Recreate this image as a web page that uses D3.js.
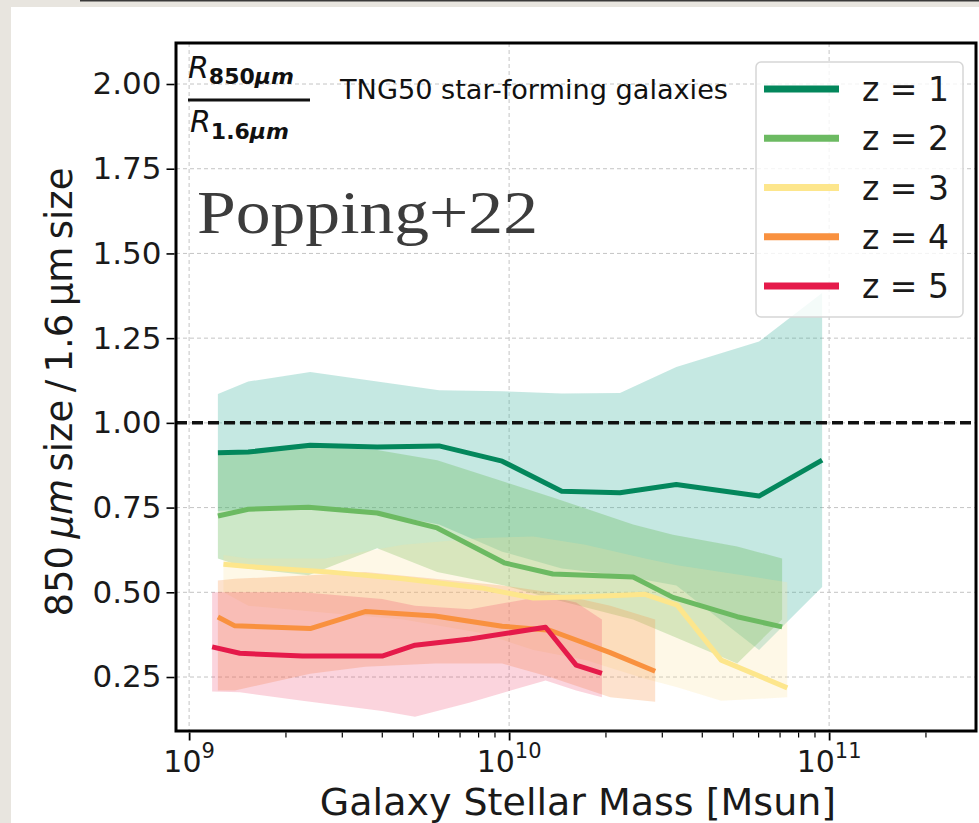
<!DOCTYPE html>
<html>
<head>
<meta charset="utf-8">
<script src="https://cdn.jsdelivr.net/npm/d3@7"></script>
<style>
  html, body { margin: 0; padding: 0; background: #e8e5df; }
  svg { display: block; }
</style>
</head>
<body>
<div id="chart"></div>
<script>
// ---------------- data ----------------
var redshifts = ["z = 1", "z = 2", "z = 3", "z = 4", "z = 5"];

// stellar mass of each bin [Msun]
var massZ1 = [1.23e9, 1.53e9, 2.39e9, 3.87e9, 6.04e9, 9.51e9, 1.46e10, 2.22e10, 3.33e10, 6.04e10, 9.51e10];
var massZ2 = [1.23e9, 1.53e9, 2.36e9, 3.87e9, 5.96e9, 9.65e9, 1.37e10, 2.44e10, 3.25e10, 5.16e10, 7.13e10];
var massZ3 = [1.28e9, 1.53e9, 2.66e9, 4.66e9, 8.18e9, 1.19e10, 1.73e10, 2.66e10, 3.35e10, 4.60e10, 7.40e10];
var massZ4 = [1.23e9, 1.39e9, 2.39e9, 3.55e9, 5.87e9, 9.51e9, 1.34e10, 2.07e10, 2.86e10];
var massZ5 = [1.18e9, 1.44e9, 2.26e9, 4.01e9, 5.08e9, 7.55e9, 1.30e10, 1.62e10, 1.95e10];

// median size ratio
var medZ1 = [0.912, 0.914, 0.934, 0.929, 0.932, 0.887, 0.798, 0.794, 0.818, 0.784, 0.890];
var medZ2 = [0.725, 0.745, 0.751, 0.734, 0.690, 0.587, 0.554, 0.545, 0.485, 0.428, 0.398];
var medZ3 = [0.583, 0.576, 0.561, 0.540, 0.513, 0.483, 0.487, 0.494, 0.462, 0.300, 0.218];
var medZ4 = [0.427, 0.401, 0.393, 0.443, 0.430, 0.400, 0.388, 0.322, 0.267];
var medZ5 = [0.339, 0.320, 0.312, 0.312, 0.344, 0.362, 0.397, 0.285, 0.261];

// scatter band (upper / lower)
var hiZ1 = [1.085, 1.122, 1.150, 1.122, 1.096, 1.093, 1.087, 1.088, 1.165, 1.240, 1.383];
var loZ1 = [0.740, 0.745, 0.750, 0.735, 0.700, 0.620, 0.570, 0.550, 0.520, 0.330, 0.516];
var hiZ2 = [0.905, 0.910, 0.930, 0.920, 0.890, 0.826, 0.780, 0.700, 0.670, 0.635, 0.600];
var loZ2 = [0.600, 0.570, 0.550, 0.630, 0.560, 0.520, 0.480, 0.420, 0.370, 0.290, 0.420];
var hiZ3 = [0.610, 0.600, 0.600, 0.640, 0.660, 0.665, 0.640, 0.600, 0.580, 0.560, 0.530];
var loZ3 = [0.500, 0.460, 0.440, 0.420, 0.380, 0.330, 0.300, 0.245, 0.220, 0.180, 0.190];
var hiZ4 = [0.535, 0.540, 0.550, 0.560, 0.540, 0.520, 0.500, 0.460, 0.420];
var loZ4 = [0.210, 0.210, 0.260, 0.280, 0.290, 0.290, 0.250, 0.190, 0.177];
var hiZ5 = [0.500, 0.500, 0.500, 0.480, 0.460, 0.450, 0.490, 0.470, 0.420];
var loZ5 = [0.207, 0.205, 0.180, 0.150, 0.133, 0.175, 0.240, 0.210, 0.190];

var yTicks = [0.25, 0.50, 0.75, 1.00, 1.25, 1.50, 1.75, 2.00];
var xMajor = [1e9, 1e10, 1e11];
var xExp = ["9", "10", "11"];
var xMinor = [2e9,3e9,4e9,5e9,6e9,7e9,8e9,9e9,2e10,3e10,4e10,5e10,6e10,7e10,8e10,9e10,2e11];

var lineColors = ["#03875c", "#6cba62", "#fde68c", "#f9913f", "#e51a4a"];
var bandColors = ["#3fb4a0", "#62b854", "#f9e39a", "#f7954a", "#ec3a66"];
var bandAlpha  = [0.30, 0.32, 0.24, 0.27, 0.22];

var series = [
  {mass: massZ1, med: medZ1, hi: hiZ1, lo: loZ1},
  {mass: massZ2, med: medZ2, hi: hiZ2, lo: loZ2},
  {mass: massZ3, med: medZ3, hi: hiZ3, lo: loZ3},
  {mass: massZ4, med: medZ4, hi: hiZ4, lo: loZ4},
  {mass: massZ5, med: medZ5, hi: hiZ5, lo: loZ5}
];

// ---------------- layout ----------------
var W = 979, H = 823;
var box = {left: 176, right: 976, top: 43, bottom: 731};

var svg = d3.select("#chart").append("svg")
  .attr("width", W).attr("height", H);

// page background + white card
svg.append("rect").attr("x", 0).attr("y", 0).attr("width", W).attr("height", H).attr("fill", "#e8e5df");
svg.append("rect").attr("x", 11).attr("y", 7).attr("width", W - 11).attr("height", H - 7).attr("fill", "#ffffff");
svg.append("rect").attr("x", 80).attr("y", 0).attr("width", W - 80).attr("height", 1.5).attr("fill", "#3a3a3a");

var x = d3.scaleLog().domain([Math.pow(10, 8.959), Math.pow(10, 11.459)]).range([box.left, box.right]);
var y = d3.scaleLinear().domain([0.0907, 2.121]).range([box.bottom, box.top]);

var plot = svg.append("g");
plot.append("clipPath").attr("id", "clip").append("rect")
  .attr("x", box.left).attr("y", box.top)
  .attr("width", box.right - box.left).attr("height", box.bottom - box.top);

// grid
var grid = plot.append("g").attr("stroke", "#c4c4c4").attr("stroke-width", 1).attr("stroke-dasharray", "4,3");
grid.selectAll(".gy").data(yTicks).enter().append("line")
  .attr("x1", box.left).attr("x2", box.right)
  .attr("y1", function(d){ return y(d); }).attr("y2", function(d){ return y(d); });
grid.selectAll(".gx").data(xMajor).enter().append("line")
  .attr("y1", box.top).attr("y2", box.bottom)
  .attr("x1", function(d){ return x(d); }).attr("x2", function(d){ return x(d); });

// bands
var area = d3.area()
  .x(function(d){ return x(d.m); })
  .y0(function(d){ return y(d.lo); })
  .y1(function(d){ return y(d.hi); });

var bands = plot.append("g").attr("clip-path", "url(#clip)");
series.forEach(function(s, i){
  var pts = s.mass.map(function(m, j){ return {m: m, lo: s.lo[j], hi: s.hi[j]}; });
  bands.append("path").datum(pts)
    .attr("d", area)
    .attr("fill", bandColors[i])
    .attr("fill-opacity", bandAlpha[i]);
});

// reference line at 1
plot.append("line")
  .attr("x1", box.left).attr("x2", box.right)
  .attr("y1", y(1)).attr("y2", y(1))
  .attr("stroke", "#111").attr("stroke-width", 3.5).attr("stroke-dasharray", "11,5");

// median lines
var line = d3.line()
  .x(function(d){ return x(d.m); })
  .y(function(d){ return y(d.v); });

series.forEach(function(s, i){
  var pts = s.mass.map(function(m, j){ return {m: m, v: s.med[j]}; });
  plot.append("path").datum(pts)
    .attr("d", line)
    .attr("fill", "none")
    .attr("stroke", lineColors[i])
    .attr("stroke-width", 5)
    .attr("stroke-linejoin", "round");
});

// legend
var leg = svg.append("g");
leg.append("rect")
  .attr("x", 756).attr("y", 62).attr("width", 207).attr("height", 255).attr("rx", 5)
  .attr("fill", "#ffffff").attr("fill-opacity", 0.8)
  .attr("stroke", "#d6d6d6").attr("stroke-width", 1.5);
redshifts.forEach(function(lab, i){
  var ly = 89 + i * 49.25;
  leg.append("line").attr("x1", 764).attr("x2", 839).attr("y1", ly).attr("y2", ly)
    .attr("stroke", lineColors[i]).attr("stroke-width", 7);
  leg.append("text").attr("x", 862).attr("y", ly + 12)
    .attr("font-family", "DejaVu Sans").attr("font-size", 33).attr("fill", "#1a1a1a")
    .text(lab);
});

// frame
svg.append("rect")
  .attr("x", box.left).attr("y", box.top)
  .attr("width", box.right - box.left).attr("height", box.bottom - box.top)
  .attr("fill", "none").attr("stroke", "#000").attr("stroke-width", 3);

// y axis
var yAxis = svg.append("g")
  .attr("transform", "translate(" + (box.left - 1.5) + ",0)")
  .call(d3.axisLeft(y).tickValues(yTicks).tickFormat(d3.format(".2f")).tickSize(8).tickPadding(5));
yAxis.select(".domain").remove();
yAxis.selectAll("line").attr("stroke", "#000").attr("stroke-width", 1.6);
yAxis.selectAll("text").attr("font-family", "DejaVu Sans").attr("font-size", 31).attr("fill", "#1a1a1a");

// x axis (major + minor ticks)
var xAxis = svg.append("g")
  .attr("transform", "translate(0," + (box.bottom + 1.5) + ")")
  .call(d3.axisBottom(x).tickValues(xMajor).tickFormat("").tickSize(8));
xAxis.select(".domain").remove();
xAxis.selectAll("line").attr("stroke", "#000").attr("stroke-width", 1.8);
var xAxisMinor = svg.append("g")
  .attr("transform", "translate(0," + (box.bottom + 1.5) + ")")
  .call(d3.axisBottom(x).tickValues(xMinor).tickFormat("").tickSize(5));
xAxisMinor.select(".domain").remove();
xAxisMinor.selectAll("line").attr("stroke", "#000").attr("stroke-width", 1.2);

var xl = svg.append("g").attr("font-family", "DejaVu Sans").attr("fill", "#1a1a1a");
xMajor.forEach(function(v, i){
  var t = xl.append("text").attr("x", x(v)).attr("y", 772).attr("text-anchor", "middle").attr("font-size", 30);
  t.append("tspan").text("10");
  t.append("tspan").attr("dy", -14).attr("font-size", 21).text(xExp[i]);
});

// axis titles
svg.append("text")
  .attr("x", 578).attr("y", 815).attr("text-anchor", "middle")
  .attr("font-family", "DejaVu Sans").attr("font-size", 38).attr("fill", "#1a1a1a")
  .text("Galaxy Stellar Mass [Msun]");

var yt = svg.append("text")
  .attr("transform", "translate(72,392) rotate(-90)")
  .attr("text-anchor", "middle")
  .attr("font-family", "DejaVu Sans").attr("font-size", 37).attr("fill", "#1a1a1a");
yt.append("tspan").text("850\u2009");
yt.append("tspan").attr("font-style", "italic").text("\u03bcm");
yt.append("tspan").text("\u2009size\u2009/\u20091.6\u2009\u03bcm\u2009size");

// fraction label
var frac = svg.append("g").attr("font-family", "DejaVu Sans").attr("fill", "#111");
var f1 = frac.append("text").attr("x", 188).attr("y", 78).attr("font-size", 30);
f1.append("tspan").attr("font-style", "italic").text("R");
f1.append("tspan").attr("dy", 6).attr("font-size", 22).attr("font-weight", "bold").text("850");
f1.append("tspan").attr("font-size", 22).attr("font-style", "italic").attr("font-weight", "bold").text("\u03bcm");
frac.append("line").attr("x1", 188).attr("x2", 310).attr("y1", 100).attr("y2", 100)
  .attr("stroke", "#111").attr("stroke-width", 3);
var f2 = frac.append("text").attr("x", 190).attr("y", 132).attr("font-size", 30);
f2.append("tspan").attr("font-style", "italic").text("R");
f2.append("tspan").attr("dy", 7).attr("font-size", 22).attr("font-weight", "bold").text("1.6");
f2.append("tspan").attr("font-size", 22).attr("font-style", "italic").attr("font-weight", "bold").text("\u03bcm");

svg.append("text")
  .attr("x", 340).attr("y", 99)
  .attr("font-family", "DejaVu Sans").attr("font-size", 27).attr("fill", "#111")
  .attr("textLength", 388).attr("lengthAdjust", "spacingAndGlyphs")
  .text("TNG50 star-forming galaxies");

svg.append("text")
  .attr("x", 197).attr("y", 233)
  .attr("font-family", "Liberation Serif").attr("font-size", 62).attr("fill", "#3c3c3c")
  .attr("textLength", 341).attr("lengthAdjust", "spacingAndGlyphs")
  .text("Popping+22");
</script>
</body>
</html>
